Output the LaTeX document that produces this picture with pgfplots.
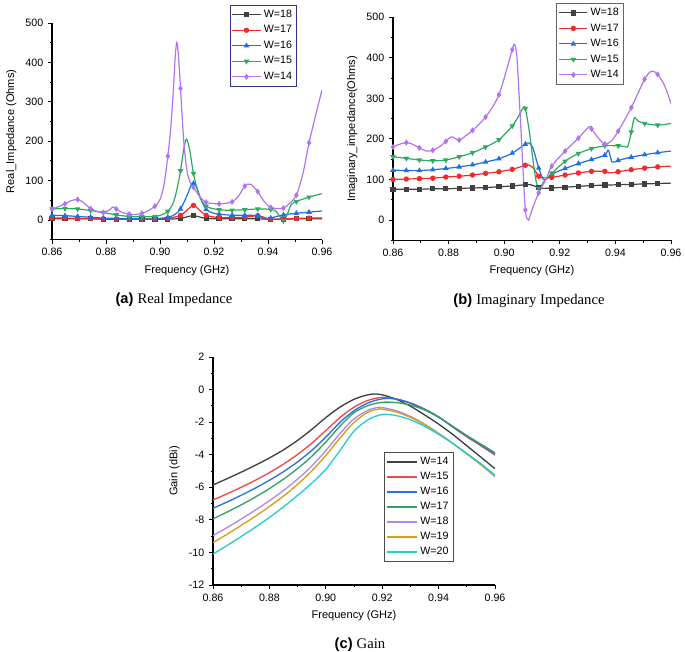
\documentclass[border=0pt]{standalone}
\usepackage{pgfplots}
\pgfplotsset{compat=1.18}
\usepackage{fontspec}
\setmainfont{Liberation Sans}
\newfontfamily\serifcap{Liberation Serif}
\definecolor{cGray}{HTML}{404040}
\definecolor{cRed}{HTML}{F42A2A}
\definecolor{cBlue}{HTML}{1F6FE0}
\definecolor{cGreen}{HTML}{2EAA5E}
\definecolor{cViolet}{HTML}{B274EE}
\definecolor{gRed}{HTML}{F04848}
\definecolor{gBlue}{HTML}{2A70E0}
\definecolor{gGreen}{HTML}{35A066}
\definecolor{gLav}{HTML}{B08AEA}
\definecolor{gGold}{HTML}{D4A017}
\definecolor{gCyan}{HTML}{22D0D0}
\pgfplotsset{
  origin/.style={
    scale only axis,
    axis x line*=bottom, axis y line*=left,
    axis line style={line width=0.8pt, black},
    tick align=outside,
    major tick length=3pt, minor tick length=1.8pt,
    every tick/.style={black, line width=0.7pt},
    tick label style={font=\fontsize{8}{9}\selectfont},
    label style={font=\fontsize{8.3}{10}\selectfont},
    /pgf/number format/assume math mode=true,
    xmin=0.86, xmax=0.96,
    xtick={0.86,0.88,0.90,0.92,0.94,0.96},
    minor xtick={0.87,0.89,0.91,0.93,0.95},
    xticklabel style={/pgf/number format/.cd, fixed, fixed zerofill, precision=2},
    xlabel={Frequency (GHz)},
    legend cell align=left,
    legend style={font=\fontsize{8}{9}\selectfont, fill=white, inner sep=1.5pt, row sep=0.6pt},
  },
  ser/.style={smooth, tension=0.5, line width=0.9pt, color=#1, mark=none},
  mk/.style 2 args={only marks, color=#1, line width=0.9pt, mark=#2, mark size=1.55pt,
    mark options={fill=#1, solid},
    legend image code/.code={\draw[##1, sharp plot, line width=0.9pt, mark repeat=2, mark phase=2] plot coordinates {(0cm,0cm)(0.37cm,0cm)(0.74cm,0cm)};}},
  gl/.style={smooth, line width=1pt, color=#1, mark=none,
    legend image code/.code={\draw[##1, color=#1, line width=1.5pt] (0cm,0cm) -- (0.78cm,0cm);}},
}
\begin{document}
\begin{tikzpicture}
\useasboundingbox (0,0) rectangle (513.75pt,-489pt);
% ---------------- (a) Real impedance
\begin{axis}[origin,
  at={(52*0.75pt,-239.7*0.75pt)}, anchor=south west,
  width=202.5pt, height=162.5pt,
  ymin=-50, ymax=500,
  ytick={0,100,200,300,400,500},
  minor ytick={-50,50,150,250,350,450},
  ylabel={Real\_Impedance (Ohms)},
  legend style={at={(0.907,1.083)}, anchor=north east, draw=black!40!blue!60!gray},
]
\addplot[ser=cGray, forget plot] coordinates {(0.8600,3)(0.8648,3)(0.8695,3)(0.8743,3)(0.8790,2)(0.8838,2)(0.8886,2)(0.8933,2)(0.8981,2)(0.9029,2)(0.9076,4)(0.9100,8)(0.9124,11)(0.9145,8)(0.9171,4)(0.9219,3)(0.9267,3)(0.9314,3)(0.9362,3)(0.9410,2)(0.9457,2)(0.9505,3)(0.9552,3)(0.9600,3)};
\addplot[mk={cGray}{square*}] coordinates {(0.8600,3)(0.8648,3)(0.8695,3)(0.8743,3)(0.8790,2)(0.8838,2)(0.8886,2)(0.8933,2)(0.8981,2)(0.9029,2)(0.9076,4)(0.9124,11)(0.9171,4)(0.9219,3)(0.9267,3)(0.9314,3)(0.9362,3)(0.9410,2)(0.9457,2)(0.9505,3)(0.9552,3)};
\addlegendentry{W=18}
\addplot[ser=cRed, forget plot] coordinates {(0.8600,5)(0.8648,5)(0.8695,4)(0.8743,4)(0.8790,3)(0.8838,2)(0.8886,2)(0.8933,2)(0.8981,2)(0.9029,4)(0.9076,12)(0.9100,25)(0.9124,37)(0.9145,26)(0.9171,12)(0.9219,6)(0.9267,6)(0.9314,7)(0.9362,11)(0.9385,7)(0.9410,2)(0.9457,3)(0.9505,4)(0.9552,5)(0.9600,5)};
\addplot[mk={cRed}{*}] coordinates {(0.8600,5)(0.8648,5)(0.8695,4)(0.8743,4)(0.8790,3)(0.8838,2)(0.8886,2)(0.8933,2)(0.8981,2)(0.9029,4)(0.9076,12)(0.9124,37)(0.9171,12)(0.9219,6)(0.9267,6)(0.9314,7)(0.9362,11)(0.9410,2)(0.9457,3)(0.9505,4)(0.9552,5)};
\addlegendentry{W=17}
\addplot[ser=cBlue, forget plot] coordinates {(0.8600,12)(0.8648,11)(0.8695,9)(0.8743,7)(0.8790,5)(0.8838,4)(0.8886,3)(0.8933,3)(0.8981,3)(0.9029,7)(0.9055,14)(0.9076,28)(0.9100,62)(0.9115,88)(0.9124,93)(0.9135,85)(0.9150,55)(0.9171,27)(0.9195,18)(0.9219,15)(0.9267,12)(0.9314,12)(0.9362,11)(0.9385,3)(0.9400,1)(0.9410,5)(0.9457,13)(0.9505,17)(0.9552,20)(0.9600,23)};
\addplot[mk={cBlue}{triangle*}] coordinates {(0.8600,12)(0.8648,11)(0.8695,9)(0.8743,7)(0.8790,5)(0.8838,4)(0.8886,3)(0.8933,3)(0.8981,3)(0.9029,7)(0.9076,28)(0.9124,93)(0.9171,27)(0.9219,15)(0.9267,12)(0.9314,12)(0.9362,11)(0.9410,5)(0.9457,13)(0.9505,17)(0.9552,20)};
\addlegendentry{W=16}
\addplot[ser=cGreen, forget plot] coordinates {(0.8600,28)(0.8648,29)(0.8695,28)(0.8743,24)(0.8790,19)(0.8838,13)(0.8886,9)(0.8933,8)(0.8981,9)(0.9005,13)(0.9029,22)(0.9050,45)(0.9065,85)(0.9076,125)(0.9088,180)(0.9098,205)(0.9110,178)(0.9124,118)(0.9145,62)(0.9171,35)(0.9219,26)(0.9267,25)(0.9314,26)(0.9362,28)(0.9410,27)(0.9430,22)(0.9445,8)(0.9457,-2)(0.9470,12)(0.9485,38)(0.9505,47)(0.9552,58)(0.9600,67)};
\addplot[mk={cGreen}{triangle*}, every mark/.append style={rotate=180}] coordinates {(0.8600,28)(0.8648,29)(0.8695,28)(0.8743,24)(0.8790,19)(0.8838,13)(0.8886,9)(0.8933,8)(0.8981,9)(0.9029,22)(0.9076,125)(0.9124,118)(0.9171,35)(0.9219,26)(0.9267,25)(0.9314,26)(0.9362,28)(0.9410,27)(0.9457,-2)(0.9505,47)(0.9552,58)};
\addlegendentry{W=15}
\addplot[ser=cViolet, forget plot] coordinates {(0.8600,27)(0.8625,34)(0.8648,41)(0.8670,49)(0.8695,52)(0.8715,45)(0.8743,29)(0.8770,21)(0.8790,19)(0.8812,25)(0.8825,33)(0.8838,28)(0.8860,19)(0.8886,15)(0.8910,14)(0.8933,17)(0.8955,23)(0.8981,35)(0.9000,52)(0.9015,90)(0.9029,162)(0.9040,235)(0.9050,335)(0.9056,410)(0.9062,450)(0.9068,420)(0.9076,334)(0.9088,200)(0.9100,125)(0.9112,95)(0.9124,83)(0.9150,57)(0.9171,45)(0.9195,42)(0.9219,41)(0.9240,42)(0.9267,46)(0.9290,60)(0.9314,86)(0.9335,91)(0.9362,72)(0.9385,48)(0.9410,32)(0.9435,29)(0.9457,30)(0.9480,42)(0.9505,63)(0.9530,120)(0.9552,196)(0.9578,270)(0.9600,330)};
\addplot[mk={cViolet}{diamond*}] coordinates {(0.8600,27)(0.8648,41)(0.8695,52)(0.8743,29)(0.8790,19)(0.8838,28)(0.8886,15)(0.8933,17)(0.8981,35)(0.9029,162)(0.9076,334)(0.9124,83)(0.9171,45)(0.9219,41)(0.9267,46)(0.9314,86)(0.9362,72)(0.9410,32)(0.9457,30)(0.9505,63)(0.9552,196)};
\addlegendentry{W=14}
\end{axis}
% ---------------- (b) Imaginary impedance
\begin{axis}[origin,
  at={(393*0.75pt,-240.3*0.75pt)}, anchor=south west,
  width=208.5pt, height=167.3pt,
  ymin=-50, ymax=500,
  ytick={0,100,200,300,400,500},
  minor ytick={-50,50,150,250,350,450},
  ylabel={Imaginary\_impedance(Ohms)},
  legend style={at={(0.83,1.063)}, anchor=north east, draw=black!60},
]
\addplot[ser=cGray, forget plot] coordinates {(0.8600,76)(0.8648,76)(0.8695,76)(0.8743,77)(0.8790,77)(0.8838,78)(0.8886,79)(0.8933,80)(0.8981,82)(0.9029,84)(0.9076,87)(0.9095,87)(0.9112,83)(0.9124,80)(0.9140,78)(0.9171,79)(0.9219,81)(0.9267,83)(0.9314,85)(0.9362,86)(0.9410,87)(0.9457,88)(0.9505,89)(0.9552,90)(0.9600,91)};
\addplot[mk={cGray}{square*}] coordinates {(0.8600,76)(0.8648,76)(0.8695,76)(0.8743,77)(0.8790,77)(0.8838,78)(0.8886,79)(0.8933,80)(0.8981,82)(0.9029,84)(0.9076,87)(0.9124,80)(0.9171,79)(0.9219,81)(0.9267,83)(0.9314,85)(0.9362,86)(0.9410,87)(0.9457,88)(0.9505,89)(0.9552,90)};
\addlegendentry{W=18}
\addplot[ser=cRed, forget plot] coordinates {(0.8600,100)(0.8648,101)(0.8695,102)(0.8743,103)(0.8790,106)(0.8838,108)(0.8886,111)(0.8933,115)(0.8981,119)(0.9029,125)(0.9076,135)(0.9088,136)(0.9105,128)(0.9124,108)(0.9140,104)(0.9171,105)(0.9219,111)(0.9267,116)(0.9314,120)(0.9362,120)(0.9380,116)(0.9410,119)(0.9457,124)(0.9505,128)(0.9552,131)(0.9600,133)};
\addplot[mk={cRed}{*}] coordinates {(0.8600,100)(0.8648,101)(0.8695,102)(0.8743,103)(0.8790,106)(0.8838,108)(0.8886,111)(0.8933,115)(0.8981,119)(0.9029,125)(0.9076,135)(0.9124,108)(0.9171,105)(0.9219,111)(0.9267,116)(0.9314,120)(0.9362,120)(0.9410,119)(0.9457,124)(0.9505,128)(0.9552,131)};
\addlegendentry{W=17}
\addplot[ser=cBlue, forget plot] coordinates {(0.8600,123)(0.8648,122)(0.8695,122)(0.8743,124)(0.8790,127)(0.8838,131)(0.8886,136)(0.8933,143)(0.8981,151)(0.9029,165)(0.9076,187)(0.9088,190)(0.9102,180)(0.9115,150)(0.9124,128)(0.9140,101)(0.9150,100)(0.9171,113)(0.9219,127)(0.9267,139)(0.9314,149)(0.9362,160)(0.9375,172)(0.9388,143)(0.9410,147)(0.9457,155)(0.9505,161)(0.9552,166)(0.9600,170)};
\addplot[mk={cBlue}{triangle*}] coordinates {(0.8600,123)(0.8648,122)(0.8695,122)(0.8743,124)(0.8790,127)(0.8838,131)(0.8886,136)(0.8933,143)(0.8981,151)(0.9029,165)(0.9076,187)(0.9124,128)(0.9171,113)(0.9219,127)(0.9267,139)(0.9314,149)(0.9362,160)(0.9410,147)(0.9457,155)(0.9505,161)(0.9552,166)};
\addlegendentry{W=16}
\addplot[ser=cGreen, forget plot] coordinates {(0.8600,156)(0.8648,152)(0.8695,148)(0.8743,146)(0.8790,148)(0.8838,156)(0.8886,166)(0.8933,180)(0.8981,198)(0.9029,232)(0.9055,260)(0.9068,277)(0.9076,275)(0.9090,220)(0.9105,140)(0.9115,95)(0.9124,78)(0.9140,92)(0.9171,115)(0.9219,145)(0.9267,164)(0.9314,176)(0.9362,183)(0.9410,183)(0.9435,181)(0.9445,182)(0.9457,217)(0.9468,252)(0.9480,245)(0.9505,238)(0.9552,234)(0.9600,238)};
\addplot[mk={cGreen}{triangle*}, every mark/.append style={rotate=180}] coordinates {(0.8600,156)(0.8648,152)(0.8695,148)(0.8743,146)(0.8790,148)(0.8838,156)(0.8886,166)(0.8933,180)(0.8981,198)(0.9029,232)(0.9076,275)(0.9124,78)(0.9171,115)(0.9219,145)(0.9267,164)(0.9314,176)(0.9362,183)(0.9410,183)(0.9457,217)(0.9505,238)(0.9552,234)};
\addlegendentry{W=15}
\addplot[ser=cViolet, forget plot] coordinates {(0.8600,180)(0.8625,187)(0.8648,191)(0.8670,187)(0.8695,178)(0.8720,170)(0.8743,172)(0.8770,182)(0.8790,194)(0.8810,205)(0.8838,197)(0.8860,207)(0.8886,221)(0.8933,254)(0.8981,309)(0.9029,420)(0.9038,432)(0.9046,400)(0.9055,290)(0.9065,160)(0.9076,25)(0.9087,0)(0.9100,25)(0.9124,67)(0.9150,100)(0.9171,133)(0.9219,170)(0.9267,202)(0.9305,230)(0.9314,225)(0.9335,205)(0.9362,187)(0.9385,195)(0.9410,219)(0.9457,277)(0.9505,347)(0.9530,367)(0.9552,359)(0.9578,330)(0.9600,287)};
\addplot[mk={cViolet}{diamond*}] coordinates {(0.8600,180)(0.8648,191)(0.8695,178)(0.8743,172)(0.8790,194)(0.8838,197)(0.8886,221)(0.8933,254)(0.8981,309)(0.9029,420)(0.9076,25)(0.9124,67)(0.9171,133)(0.9219,170)(0.9267,202)(0.9314,225)(0.9362,187)(0.9410,219)(0.9457,277)(0.9505,347)(0.9552,359)};
\addlegendentry{W=14}
\end{axis}
% ---------------- (c) Gain
\begin{axis}[origin,
  at={(213*0.75pt,-585*0.75pt)}, anchor=south west,
  width=211.5pt, height=171pt,
  ymin=-12, ymax=2,
  ytick={-12,-10,-8,-6,-4,-2,0,2},
  minor ytick={-11,-9,-7,-5,-3,-1,1},
  ylabel={Gain (dBi)},
  legend style={at={(0.606,0.583)}, anchor=north west, draw=black!70, row sep=0.2pt},
]
\addplot[gl=cGray] coordinates {(0.860,-5.86)(0.865,-5.47)(0.870,-5.07)(0.875,-4.65)(0.880,-4.20)(0.885,-3.70)(0.890,-3.12)(0.895,-2.45)(0.900,-1.72)(0.905,-1.08)(0.910,-0.60)(0.914,-0.36)(0.917,-0.27)(0.920,-0.32)(0.925,-0.60)(0.930,-1.02)(0.935,-1.55)(0.940,-2.12)(0.945,-2.75)(0.950,-3.45)(0.955,-4.15)(0.960,-4.86)};
\addlegendentry{W=14}
\addplot[gl=gRed] coordinates {(0.860,-6.78)(0.865,-6.40)(0.870,-6.00)(0.875,-5.57)(0.880,-5.10)(0.885,-4.58)(0.890,-3.98)(0.895,-3.30)(0.900,-2.52)(0.905,-1.72)(0.910,-1.08)(0.915,-0.66)(0.920,-0.48)(0.925,-0.58)(0.930,-0.82)(0.935,-1.20)(0.940,-1.68)(0.945,-2.30)(0.950,-2.90)(0.955,-3.45)(0.960,-4.02)};
\addlegendentry{W=15}
\addplot[gl=gBlue] coordinates {(0.860,-7.29)(0.865,-6.90)(0.870,-6.49)(0.875,-6.05)(0.880,-5.57)(0.885,-5.04)(0.890,-4.44)(0.895,-3.74)(0.900,-2.92)(0.905,-2.02)(0.910,-1.30)(0.915,-0.82)(0.920,-0.57)(0.925,-0.58)(0.930,-0.84)(0.935,-1.20)(0.940,-1.68)(0.945,-2.28)(0.950,-2.85)(0.955,-3.40)(0.960,-3.95)};
\addlegendentry{W=16}
\addplot[gl=gGreen] coordinates {(0.860,-7.94)(0.865,-7.52)(0.870,-7.08)(0.875,-6.60)(0.880,-6.08)(0.885,-5.50)(0.890,-4.85)(0.895,-4.10)(0.900,-3.22)(0.905,-2.25)(0.910,-1.42)(0.915,-0.98)(0.920,-0.78)(0.925,-0.80)(0.930,-0.95)(0.935,-1.25)(0.940,-1.70)(0.945,-2.25)(0.950,-2.82)(0.955,-3.35)(0.960,-3.88)};
\addlegendentry{W=17}
\addplot[gl=gLav] coordinates {(0.860,-8.97)(0.865,-8.47)(0.870,-7.95)(0.875,-7.40)(0.880,-6.82)(0.885,-6.20)(0.890,-5.50)(0.895,-4.70)(0.900,-3.75)(0.905,-2.70)(0.910,-1.80)(0.915,-1.27)(0.9186,-1.09)(0.920,-1.10)(0.925,-1.30)(0.930,-1.65)(0.935,-2.12)(0.940,-2.68)(0.945,-3.30)(0.950,-3.95)(0.955,-4.62)(0.960,-5.35)};
\addlegendentry{W=18}
\addplot[gl=gGold] coordinates {(0.860,-9.40)(0.865,-8.88)(0.870,-8.34)(0.875,-7.78)(0.880,-7.18)(0.885,-6.54)(0.890,-5.82)(0.895,-5.00)(0.900,-4.05)(0.905,-2.98)(0.910,-2.02)(0.915,-1.38)(0.919,-1.19)(0.920,-1.20)(0.925,-1.38)(0.930,-1.70)(0.935,-2.15)(0.940,-2.70)(0.945,-3.30)(0.950,-3.95)(0.955,-4.60)(0.960,-5.30)};
\addlegendentry{W=19}
\addplot[gl=gCyan] coordinates {(0.860,-10.10)(0.865,-9.57)(0.870,-9.02)(0.875,-8.45)(0.880,-7.85)(0.885,-7.20)(0.890,-6.50)(0.895,-5.75)(0.900,-4.90)(0.905,-3.75)(0.910,-2.55)(0.915,-1.85)(0.920,-1.53)(0.925,-1.60)(0.930,-1.85)(0.935,-2.25)(0.940,-2.75)(0.945,-3.30)(0.950,-3.92)(0.955,-4.55)(0.960,-5.25)};
\addlegendentry{W=20}
\end{axis}
% ---------------- captions
\node[anchor=center, inner sep=0pt] at (174*0.75pt,-300*0.75pt) {\fontsize{11}{13}\selectfont\textbf{(a)} {\serifcap Real Impedance}};
\node[anchor=center, inner sep=0pt] at (529*0.75pt,-300.7*0.75pt) {\fontsize{11}{13}\selectfont\textbf{(b)} {\serifcap Imaginary Impedance}};
\node[anchor=center, inner sep=0pt] at (360*0.75pt,-645*0.75pt) {\fontsize{11}{13}\selectfont\textbf{(c)} {\serifcap Gain}};
\end{tikzpicture}
\end{document}
